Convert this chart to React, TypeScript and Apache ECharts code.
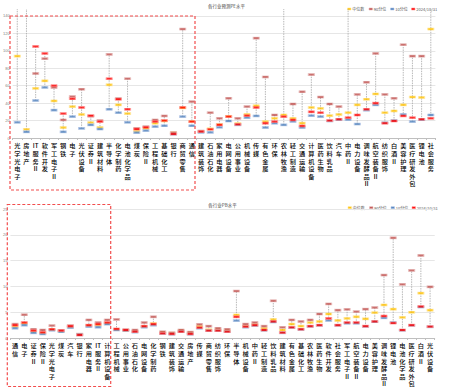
import React, { useEffect, useRef } from 'react';
import * as echarts from 'echarts';

const legendNames = ['中位数', '90分位', '10分位', '2024/10/31'];
const peTitle = '各行业预测PE水平';
const pbTitle = '各行业PB水平';

const peCategories = ['光学光电子', '房地产', 'IT服务Ⅱ', '软件开发', '军工电子Ⅱ', '钢铁', '电子', '光伏设备', '证券Ⅱ', '建筑材料', '半导体', '化学制药', '电池化学品', '煤炭', '保险Ⅱ', '工程机械', '基础化工', '银行', '商贸零售', '通信', '建筑装饰', '石油石化', '家用电器', '电网设备', '公用事业', '机械设备', '传媒', '有色金属', '环保', '农林牧渔', '轻工制造', '交通运输', '计算机设备', '医药生物', '饮料乳品', '汽车', '中药Ⅱ', '电力设备', '调味发酵品Ⅱ', '航空装备Ⅱ', '纺织服饰', '白酒Ⅱ', '美容护理', '医疗研发外包', '锂电池', '社会服务'];
const peMedian = [94, 10, 57, 65.5, 42.5, 12, 36, 27, 17.6, 12, 61, 38, 28, 7.7, 11, 17, 19.5, 6, 34.5, 19, 7.5, 10.5, 15.5, 25, 16.5, 27, 37, 18.8, 22.6, 26.4, 22.6, 17, 35, 34, 25.6, 27, 29, 38, 44.5, 50.5, 29, 31, 38, 47, 46.5, 125];
const peP90 = [160, 160, 74, 91, 58, 20.7, 47.5, 56, 25, 20, 96, 45.3, 68, 11, 13, 20.7, 25.3, 6.1, 125, 41.7, 8, 29, 22.6, 45.6, 22.6, 36, 114.6, 70, 26.4, 170, 39, 53, 72.7, 47, 39, 36, 160, 50, 64, 97, 50, 45.6, 107, 94, 94, 200];
const peP10 = [18, 7, 43, 58, 32, 7, 24.5, 11, 15, 10.3, 33, 29, 18, 6.1, 8.4, 13, 14, 4.5, 24.5, 14, 6.5, 6.5, 12.3, 19.5, 15, 23.3, 25.3, 12, 17, 15, 19, 12, 25.6, 24.5, 19.5, 21, 21, 16, 32, 38, 17.5, 20, 27, 18.8, 21, 26.4];
const peCurrent = [190, 190, 105, 97, 60, 28, 45, 35, 25.6, 18.8, 68, 44.5, 33, 10.3, 12.3, 18.8, 20, 4.6, 35, 18.8, 7.3, 10, 15, 24.5, 15.7, 25.6, 35, 17, 18.8, 24.5, 20.7, 13.8, 30, 29, 20, 21.5, 23.3, 26.4, 33, 40, 17, 19.5, 25.3, 23.3, 21.5, 22.6];

const pbCategories = ['通信', '电子', '证券Ⅱ', '保险Ⅱ', '光学光电子', '煤炭', '汽车', '银行', '家用电器', 'IT服务Ⅱ', '计算机设备', '工程机械', '公用事业', '石油石化', '电网设备', '化学制药', '钢铁', '建筑装饰', '交通运输', '房地产', '传媒', '商贸零售', '纺织服饰', '环保', '半导体', '机械设备', '中药Ⅱ', '轻工制造', '饮料乳品', '建筑材料', '有色金属', '基础化工', '农林牧渔', '医药生物', '软件开发', '社会服务', '军工电子Ⅱ', '航空装备Ⅱ', '电力设备', '美容护理', '调味发酵品Ⅱ', '锂电池', '电池化学品', '医疗研发外包', '白酒Ⅱ', '光伏设备'];
const pbMedian = [2.2, 2.8, 1.25, 0.95, 1.6, 1.3, 2.15, 0.7, 2.4, 2.5, 2.85, 1.65, 1.5, 1.3, 2.2, 2.8, 1.1, 0.95, 1.4, 1.0, 2.3, 1.6, 1.6, 1.4, 4.46, 2.3, 2.6, 1.9, 3.6, 1.55, 2.7, 2.3, 3.0, 3.2, 4.65, 3.4, 3.8, 4.1, 3.7, 4.9, 6.4, 5.6, 4.0, 5.0, 8.7, 5.4];
const pbP90 = [2.7, 4.5, 1.7, 1.55, 2.4, 1.5, 2.4, 0.75, 3.5, 3.0, 3.5, 3.6, 1.6, 1.55, 3.0, 4.1, 1.2, 1.0, 1.55, 1.15, 2.65, 2.3, 1.9, 1.7, 9.1, 2.7, 3.0, 2.3, 7.2, 2.07, 3.5, 3.2, 3.5, 4.65, 6.6, 5.4, 5.55, 5.1, 5.6, 5.9, 12.2, 19.4, 10.4, 13.1, 16, 9.9];
const pbP10 = [1.9, 2.5, 1.0, 0.78, 1.5, 1.2, 2.0, 0.6, 2.2, 2.1, 2.7, 1.55, 1.45, 1.15, 2.1, 2.5, 0.85, 0.75, 1.2, 0.75, 1.9, 1.4, 1.4, 1.2, 3.36, 2.1, 2.4, 1.5, 3.1, 1.0, 2.0, 1.65, 2.25, 2.45, 3.4, 2.45, 2.85, 2.85, 2.25, 3.15, 3.9, 3.0, 1.5, 2.45, 6.0, 2.15];
const pbCurrent = [2.5, 3.0, 1.42, 1.1, 1.7, 1.42, 2.3, 0.58, 2.5, 2.7, 3.0, 1.75, 1.55, 1.22, 2.3, 2.7, 0.9, 0.78, 1.22, 0.78, 2.0, 1.42, 1.42, 1.22, 4.1, 2.2, 2.5, 1.55, 3.2, 1.03, 2.07, 1.7, 2.3, 2.5, 3.8, 2.5, 3.0, 3.0, 2.3, 3.2, 4.26, 2.9, 1.55, 2.5, 6.1, 2.2];

const peMax = 148;
const pbMax = 25;

const markerColors = ['#ffc000', '#c0504d', '#4f81bd', '#ff0000'];
const markerBorders = ['#ffe699', '#e6b9b8', '#b4c7e7', '#ff9999'];

function vertical(s: string) {
  const parts: string[] = [];
  let buf = '';
  for (const ch of s) {
    if (/[A-Za-z0-9]/.test(ch)) buf += ch;
    else {
      if (buf) { parts.push(buf); buf = ''; }
      parts.push(ch);
    }
  }
  if (buf) parts.push(buf);
  return parts.join('\n');
}

function makeSeries(idx: number, series: number[][], cats: string[], yMax: number) {
  const whisker = {
    type: 'custom',
    xAxisIndex: idx,
    yAxisIndex: idx,
    silent: true,
    z: 1,
    data: cats.map((c, i) => {
      const vals = series.map((s) => s[i]);
      return [i, Math.min(...vals), Math.max(...vals)];
    }),
    encode: { x: 0, y: [1, 2] },
    renderItem: (params: any, api: any) => {
      const x = api.value(0);
      const lo = api.value(1);
      const hi = Math.min(api.value(2), yMax);
      const p1 = api.coord([x, lo]);
      const p2 = api.coord([x, hi]);
      return {
        type: 'line',
        shape: { x1: p1[0], y1: p1[1], x2: p2[0], y2: p2[1] },
        style: { stroke: '#a6a6a6', lineWidth: 0.8, lineDash: [1.5, 1] },
      };
    },
  };
  const markers = series.map((s, k) => ({
    type: 'scatter',
    name: legendNames[k],
    xAxisIndex: idx,
    yAxisIndex: idx,
    symbol: 'rect',
    symbolSize: [6, 2.2],
    z: 2 + k,
    clip: true,
    itemStyle: { color: markerColors[k], borderColor: markerBorders[k], borderWidth: 0.7 },
    data: s,
  }));
  return [whisker, ...markers];
}

function legendGraphic(y: number, dx: number) {
  const xs = [347.5, 369, 390.5, 411.5];
  const els: any[] = [];
  legendNames.forEach((n, k) => {
    els.push({
      type: 'rect',
      shape: { x: xs[k] + dx, y: y - 1, width: 3.5, height: 2 },
      style: { fill: markerColors[k], stroke: markerBorders[k], lineWidth: 0.6 },
    });
    els.push({
      type: 'text',
      x: xs[k] + dx + 4.8,
      y: y,
      style: { text: n, fontSize: 4, fill: '#595959', verticalAlign: 'middle', fontFamily: 'Noto Sans CJK SC' },
    });
  });
  return els;
}

export default function App() {
  const ref = useRef<HTMLDivElement>(null);
  useEffect(() => {
    document.body.style.margin = '0';
    const chart = echarts.init(ref.current!, undefined, { renderer: 'svg' });
    const xAxisCommon = {
      type: 'category',
      boundaryGap: true,
      axisLine: { lineStyle: { color: '#bfbfbf', width: 1 } },
      axisTick: { show: true, length: 2, lineStyle: { color: '#bfbfbf' } },
      axisLabel: {
        interval: 0,
        margin: 4,
        fontSize: 6.2,
        lineHeight: 7.6,
        color: '#000000',
        fontWeight: 500,
        fontFamily: 'Noto Sans CJK SC',
        formatter: (v: string) => vertical(v),
      },
    };
    const yAxisCommon = {
      type: 'value',
      min: 0,
      axisLine: { show: false },
      axisTick: { show: false },
      splitLine: { show: true, showMaxLine: false, lineStyle: { color: '#e6e6e6', width: 1.2 } },
    };
    const option: any = {
      animation: false,
      grid: [
        { left: 10.4, width: 425, top: 9, height: 129 },
        { left: 8.7, width: 426, top: 209, height: 129 },
      ],
      xAxis: [
        { ...xAxisCommon, gridIndex: 0, data: peCategories },
        { ...xAxisCommon, gridIndex: 1, data: pbCategories },
      ],
      yAxis: [
        {
          ...yAxisCommon, gridIndex: 0, max: peMax, interval: 20,
          axisLabel: { fontSize: 4, color: '#7f7f7f', margin: 3, formatter: (v: number) => (v % 20 === 0 ? String(v) : '') },
        },
        {
          ...yAxisCommon, gridIndex: 1, max: pbMax, interval: 5,
          splitLine: { show: true, lineStyle: { color: '#e6e6e6', width: 1.2 } },
          axisLabel: { fontSize: 4, color: '#7f7f7f', margin: 3 },
        },
      ],
      series: [
        ...makeSeries(0, [peMedian, peP90, peP10, peCurrent], peCategories, peMax),
        ...makeSeries(1, [pbMedian, pbP90, pbP10, pbCurrent], pbCategories, pbMax),
      ],
      graphic: [
        {
          type: 'text', x: 226.5, y: 5.7,
          style: { text: peTitle, fontSize: 4.5, fill: '#404040', align: 'center', verticalAlign: 'middle', fontFamily: 'Noto Sans CJK SC' },
        },
        {
          type: 'text', x: 222.5, y: 205,
          style: { text: pbTitle, fontSize: 4.5, fill: '#404040', align: 'center', verticalAlign: 'middle', fontFamily: 'Noto Sans CJK SC' },
        },
        ...legendGraphic(9, 0),
        ...legendGraphic(207.7, 0.5),
        {
          type: 'rect', z: 100,
          shape: { x: 10, y: 16, width: 185, height: 174 },
          style: { fill: 'none', stroke: '#f24d4d', lineWidth: 1.2, lineDash: [3, 2] },
        },
        {
          type: 'rect', z: 100,
          shape: { x: 7.3, y: 204.5, width: 103.4, height: 182 },
          style: { fill: 'none', stroke: '#f24d4d', lineWidth: 1.2, lineDash: [3, 2] },
        },
      ],
    };
    chart.setOption(option);
    return () => chart.dispose();
  }, []);
  return <div ref={ref} style={{ width: 462, height: 389 }} />;
}
